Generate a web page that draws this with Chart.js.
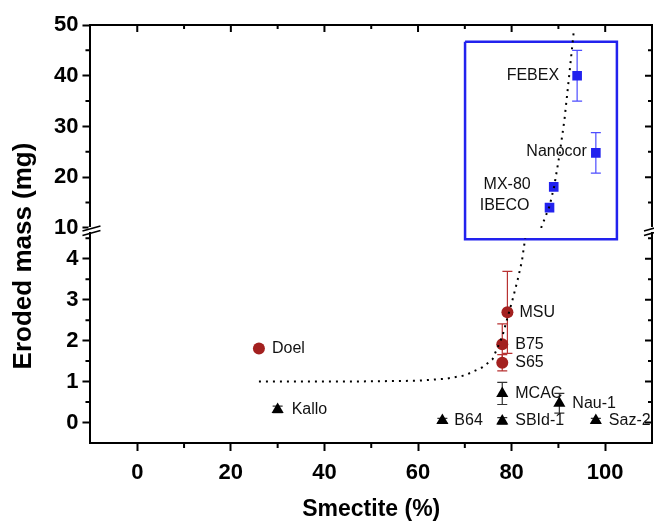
<!DOCTYPE html>
<html>
<head>
<meta charset="utf-8">
<script src="https://cdn.jsdelivr.net/npm/chart.js@4/dist/chart.umd.min.js"></script>
<style>
    html, body { margin: 0; padding: 0; background: #fff; }
</style>
</head>
<body>
<canvas id="graph" width="654" height="523"></canvas>
<script>
// ==========================================
// ERODED MASS vs SMECTITE CONTENT
// ==========================================

// Upper part of the axis (10 - 50 mg) : blue squares
const bleuNoms = ["FEBEX", "Nanocor", "MX-80", "IBECO"];
const bleuX = [94, 98, 89, 88.1];
const bleuY = [40, 24.8, 18.1, 14];
const bleuErr = [5, 4, 0, 0];

// Lower part (0 - 4.5 mg) : red circles
const rougeNoms = ["Doel", "MSU", "B75", "S65"];
const rougeX = [26, 79.1, 78, 78];
const rougeY = [1.81, 2.69, 1.91, 1.46];
const rougeErr = [0, 1.0, 0.5, 0.2];

// Lower part : black triangles
const noirNoms = ["Kallo", "B64", "MCAC", "SBId-1", "Nau-1", "Saz-2"];
const noirX = [30, 65.2, 78, 78, 90.2, 98];
const noirY = [0.32, 0.05, 0.71, 0.04, 0.47, 0.05];
const noirErr = [0.08, 0.05, 0.27, 0.08, 0.24, 0.05];

// Dotted fit curve
const courbeBasX = [26, 45, 60, 66, 70, 73.8, 75.9, 78, 80.2, 81.3, 82.2, 82.9];
const courbeBasY = [1.0, 1.0, 1.02, 1.07, 1.15, 1.35, 1.54, 2.1, 3.0, 3.49, 3.94, 4.5];
const courbeHautX = [86.3, 88.1, 89.1, 90.2, 91.3, 92.3, 93.3];
const courbeHautY = [10, 14.3, 18.2, 24.2, 31.4, 40, 48.9];

// Blue frame around the upper group (values on the upper axis)
const cadreX = [70.05, 102.5, 102.5, 70.05, 70.05];
const cadreY = [46.7, 46.7, 7.8, 7.8, 46.7];

// Tick labels
const xEtiquettes = [0, 20, 40, 60, 80, 100];
const yBasEtiquettes = [0, 1, 2, 3, 4];
const yHautEtiquettes = [10, 20, 30, 40, 50];

// ==========================================
// STYLE
// ==========================================

const police = "'Liberation Sans', Arial, sans-serif";
const rouge = "#a3201f";
const bleu = "#2222ee";

function points(xs, ys) {
    return xs.map((x, i) => ({ x: x, y: ys[i] }));
}

// Label offsets next to the markers (px)
const decalages = {
    "FEBEX": [-18, 0, "right"], "Nanocor": [-9, -1, "right"],
    "MX-80": [-23, -2, "right"], "IBECO": [-20, -2, "right"],
    "Doel": [13, 0, "left"], "MSU": [12, 0, "left"],
    "B75": [13, 0, "left"], "S65": [13, 0, "left"],
    "Kallo": [14, 0, "left"], "B64": [12, 0, "left"],
    "MCAC": [13, 0, "left"], "SBId-1": [13, 0, "left"],
    "Nau-1": [13, 0, "left"], "Saz-2": [13, 0, "left"]
};

// ==========================================
// ERROR BARS
// ==========================================

const barresErreur = {
    id: "barresErreur",
    beforeDatasetsDraw(chart) {
        const ctx = chart.ctx;
        const x = chart.scales.x;
        const groupes = [
            [bleuX, bleuY, bleuErr, chart.scales.yHaut, "#4d4dff"],
            [rougeX, rougeY, rougeErr, chart.scales.yBas, "#b83232"],
            [noirX, noirY, noirErr, chart.scales.yBas, "#333333"]
        ];
        ctx.save();
        ctx.lineWidth = 1.2;
        for (const [xs, ys, errs, y, couleur] of groupes) {
            ctx.strokeStyle = couleur;
            for (let i = 0; i < xs.length; i++) {
                if (!errs[i]) continue;
                const px = x.getPixelForValue(xs[i]);
                const haut = y.getPixelForValue(ys[i] + errs[i]);
                const bas = y.getPixelForValue(ys[i] - errs[i]);
                ctx.beginPath();
                ctx.moveTo(px, haut); ctx.lineTo(px, bas);
                ctx.moveTo(px - 5, haut); ctx.lineTo(px + 5, haut);
                ctx.moveTo(px - 5, bas); ctx.lineTo(px + 5, bas);
                ctx.stroke();
            }
        }
        ctx.restore();
    }
};

// ==========================================
// LABELS, FRAME, MIRRORED TICKS, AXIS BREAK
// ==========================================

const habillage = {
    id: "habillage",
    afterDatasetsDraw(chart) {
        const ctx = chart.ctx;
        const x = chart.scales.x;
        const yBas = chart.scales.yBas;
        const yHaut = chart.scales.yHaut;

        // sample names
        ctx.save();
        ctx.fillStyle = "#111";
        ctx.font = "16px " + police;
        ctx.textBaseline = "middle";
        const groupes = [
            [bleuNoms, bleuX, bleuY, yHaut],
            [rougeNoms, rougeX, rougeY, yBas],
            [noirNoms, noirX, noirY, yBas]
        ];
        for (const [noms, xs, ys, y] of groupes) {
            for (let i = 0; i < noms.length; i++) {
                const d = decalages[noms[i]];
                ctx.textAlign = d[2];
                ctx.fillText(noms[i], x.getPixelForValue(xs[i]) + d[0], y.getPixelForValue(ys[i]) + d[1]);
            }
        }
        ctx.restore();
    },
    afterDraw(chart) {
        const ctx = chart.ctx;
        const x = chart.scales.x;
        const yBas = chart.scales.yBas;
        const yHaut = chart.scales.yHaut;
        const zone = chart.chartArea;

        ctx.save();
        ctx.strokeStyle = "#000";
        ctx.lineWidth = 2;

        // top and right border
        ctx.beginPath();
        ctx.moveTo(zone.left - 1, zone.top);
        ctx.lineTo(zone.right, zone.top);
        ctx.lineTo(zone.right, zone.bottom + 1);
        ctx.stroke();

        // x ticks : minor outside bottom, all inside top
        ctx.beginPath();
        for (let v = -10; v <= 110; v += 10) {
            const px = x.getPixelForValue(v);
            const majeur = xEtiquettes.includes(v);
            if (v > -10 && v < 110) {
                ctx.moveTo(px, zone.top);
                ctx.lineTo(px, zone.top + (majeur ? 7 : 4));
                if (!majeur) {
                    ctx.moveTo(px, zone.bottom);
                    ctx.lineTo(px, zone.bottom + 5);
                }
            }
        }
        // y ticks lower part
        for (let v = 0; v <= 4.5; v += 0.5) {
            const py = yBas.getPixelForValue(v);
            const majeur = yBasEtiquettes.includes(v);
            ctx.moveTo(zone.right, py);
            ctx.lineTo(zone.right - (majeur ? 7 : 4), py);
            if (!majeur) {
                ctx.moveTo(zone.left, py);
                ctx.lineTo(zone.left - 5, py);
            }
        }
        // y ticks upper part
        for (let v = 15; v < 50; v += 5) {
            const py = yHaut.getPixelForValue(v);
            const majeur = yHautEtiquettes.includes(v);
            ctx.moveTo(zone.right, py);
            ctx.lineTo(zone.right - (majeur ? 7 : 4), py);
            if (!majeur) {
                ctx.moveTo(zone.left, py);
                ctx.lineTo(zone.left - 5, py);
            }
        }
        ctx.stroke();

        // axis break marks
        const yj = yBas.top;
        for (const ax of [zone.left, zone.right]) {
            ctx.fillStyle = "#fff";
            ctx.fillRect(ax - 2, yj - 1, 4, 5);
            ctx.beginPath();
            ctx.lineWidth = 1.6;
            ctx.moveTo(ax - 8, yj + 3); ctx.lineTo(ax + 10, yj - 2);
            ctx.moveTo(ax - 8, yj + 7.5); ctx.lineTo(ax + 10, yj + 2.5);
            ctx.stroke();
        }

        // y title
        ctx.fillStyle = "#000";
        ctx.font = "bold 26px " + police;
        ctx.textAlign = "center";
        ctx.textBaseline = "middle";
        ctx.translate(24, 256);
        ctx.rotate(-Math.PI / 2);
        ctx.fillText("Eroded mass (mg)", 0, 0);
        ctx.restore();
    }
};

// ==========================================
// CHART
// ==========================================

const policeTicks = { family: police, size: 22, weight: "bold" };

new Chart(document.getElementById("graph"), {
    type: "scatter",
    data: {
        datasets: [
            {
                data: points(courbeBasX, courbeBasY),
                yAxisID: "yBas",
                showLine: true,
                borderColor: "#000",
                borderWidth: 2,
                borderDash: [2, 5],
                pointRadius: 0,
                tension: 0
            },
            {
                data: points(courbeHautX, courbeHautY),
                yAxisID: "yHaut",
                showLine: true,
                borderColor: "#000",
                borderWidth: 2,
                borderDash: [2, 5],
                pointRadius: 0,
                tension: 0
            },
            {
                data: points(cadreX, cadreY),
                yAxisID: "yHaut",
                showLine: true,
                borderColor: bleu,
                borderWidth: 2.5,
                pointRadius: 0,
                clip: false
            },
            {
                data: points(bleuX, bleuY),
                yAxisID: "yHaut",
                pointStyle: "rect",
                pointRadius: 6.8,
                backgroundColor: bleu,
                borderColor: bleu,
                borderWidth: 0
            },
            {
                data: points(rougeX, rougeY),
                yAxisID: "yBas",
                pointStyle: "circle",
                pointRadius: 6,
                backgroundColor: rouge,
                borderColor: rouge,
                borderWidth: 0
            },
            {
                data: points(noirX, noirY),
                yAxisID: "yBas",
                pointStyle: "triangle",
                pointRadius: 7,
                backgroundColor: "#000",
                borderColor: "#000",
                borderWidth: 0
            }
        ]
    },
    options: {
        responsive: false,
        animation: false,
        layout: { autoPadding: false, padding: { left: 50, right: 2, top: 25, bottom: 0 } },
        plugins: {
            legend: { display: false },
            tooltip: { enabled: false }
        },
        scales: {
            x: {
                type: "linear",
                min: -10,
                max: 110,
                afterFit: s => { s.paddingRight = 0; },
                ticks: {
                    stepSize: 10,
                    autoSkip: false,
                    color: "#000",
                    font: policeTicks,
                    padding: 9,
                    maxRotation: 0,
                    callback: v => xEtiquettes.includes(v) ? v : ""
                },
                grid: {
                    drawOnChartArea: false,
                    tickLength: 8,
                    tickWidth: 2,
                    tickColor: c => xEtiquettes.includes(c.tick.value) ? "#000" : "rgba(0,0,0,0)"
                },
                border: { color: "#000", width: 2 },
                title: {
                    display: true,
                    text: "Smectite (%)",
                    color: "#000",
                    font: { family: police, size: 23, weight: "bold" },
                    padding: { top: 0, bottom: 0 }
                }
            },
            yBas: {
                type: "linear",
                position: "left",
                stack: "y",
                stackWeight: 214,
                min: -0.5,
                max: 4.75,
                ticks: {
                    stepSize: 0.5,
                    autoSkip: false,
                    color: "#000",
                    font: policeTicks,
                    padding: 4,
                    callback: v => yBasEtiquettes.includes(v) ? v : ""
                },
                grid: {
                    drawOnChartArea: false,
                    tickLength: 8,
                    tickWidth: 2,
                    tickColor: c => yBasEtiquettes.includes(c.tick.value) ? "#000" : "rgba(0,0,0,0)"
                },
                border: { color: "#000", width: 2 }
            },
            yHaut: {
                type: "linear",
                position: "left",
                stack: "y",
                stackWeight: 202,
                min: 10,
                max: 50,
                ticks: {
                    stepSize: 5,
                    autoSkip: false,
                    color: "#000",
                    font: policeTicks,
                    padding: 4,
                    callback: v => yHautEtiquettes.includes(v) ? v : ""
                },
                grid: {
                    drawOnChartArea: false,
                    tickLength: 8,
                    tickWidth: 2,
                    tickColor: c => yHautEtiquettes.includes(c.tick.value) ? "#000" : "rgba(0,0,0,0)"
                },
                border: { color: "#000", width: 2 }
            }
        }
    },
    plugins: [barresErreur, habillage]
});
</script>
</body>
</html>
